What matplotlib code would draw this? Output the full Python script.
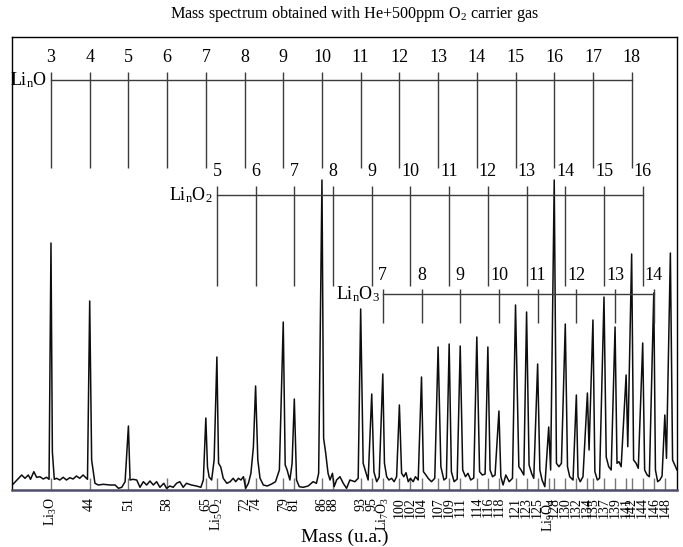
import matplotlib
matplotlib.use("Agg")
import matplotlib.pyplot as plt

plt.rcParams['font.family'] = ['Liberation Serif', 'DejaVu Serif']
plt.rcParams['mathtext.fontset'] = 'custom'
plt.rcParams['mathtext.rm'] = 'Liberation Serif'
plt.rcParams['mathtext.it'] = 'Liberation Serif'
plt.rcParams['mathtext.default'] = 'regular'

# ---------------- data ----------------
spec_mass = [
    30.0, 31.7, 32.3, 32.9, 33.3, 33.9, 34.4, 35.0, 35.6, 36.2, 36.65, 37.0, 37.25, 37.6, 38.0,
    38.6, 39.2, 39.8, 40.4, 41.0, 41.6, 42.2, 42.8, 43.6, 44.0, 44.35, 44.95, 45.55, 46.45, 47.7,
    48.6, 49.2, 49.8, 50.4, 51.0, 51.3, 51.8, 52.5, 53.1, 53.7, 54.3, 54.9, 55.5, 56.1, 56.7,
    57.4, 57.9, 58.5, 59.1, 59.7, 60.3, 60.9, 61.5, 62.4, 63.3, 64.1, 64.55, 65.0, 65.3, 65.6,
    66.05, 66.5, 67.0, 67.3, 67.7, 68.15, 68.8, 69.4, 69.95, 70.4, 70.9, 71.35, 71.8, 72.2, 72.7,
    73.15, 73.6, 74.0, 74.4, 74.8, 75.4, 76.1, 76.9, 77.6, 78.3, 79.0, 79.35, 79.7, 80.2, 80.6,
    81.0, 81.4, 81.9, 82.6, 83.5, 84.4, 85.0, 85.4, 86.0, 86.3, 86.65, 87.1, 87.45, 87.9, 88.2,
    88.65, 89.25, 89.85, 90.45, 91.05, 91.95, 92.55, 93.0, 93.45, 93.9, 94.35, 95.0, 95.4, 95.9,
    96.35, 97.0, 97.3, 97.7, 98.1, 98.6, 99.05, 99.5, 100.0, 100.4, 100.8, 101.2, 101.6, 102.0,
    102.5, 102.9, 103.4, 104.0, 104.35, 104.8, 105.2, 105.8, 106.4, 107.0, 107.5, 108.05, 108.5,
    109.0, 109.4, 109.9, 110.45, 111.0, 111.45, 111.95, 112.4, 112.9, 113.45, 114.0, 114.5, 115.0,
    115.5, 116.0, 116.4, 116.85, 117.3, 118.0, 118.35, 118.75, 119.25, 119.85, 120.45, 121.0,
    121.6, 122.0, 122.5, 123.0, 123.45, 123.9, 124.3, 125.0, 125.4, 125.8, 126.3, 127.0, 127.35,
    128.0, 128.4, 128.85, 129.3, 130.0, 130.4, 130.8, 131.4, 132.0, 132.3, 132.7, 133.2, 134.0,
    134.3, 135.0, 135.35, 135.8, 136.2, 137.0, 137.4, 137.85, 138.3, 139.0, 139.35, 139.7, 140.1,
    141.0, 141.3, 142.0, 142.35, 142.8, 143.2, 144.0, 144.35, 144.8, 145.2, 146.0, 146.3, 146.7,
    147.1, 147.5, 148.0, 148.3, 149.0, 149.4, 150.2,
]
spec_int = [
    5, 15, 11.7, 15, 10.7, 18.3, 12.7, 13.3, 11, 12.7, 10.7, 247, 38, 10.7, 11.7,
    10, 12.7, 10, 12.3, 11, 14, 11.7, 15, 10.7, 189, 30, 6.7, 5, 5.7, 5,
    5, 1.7, 2.7, 8.3, 64, 10, 10.7, 10, 2.7, 8.3, 5, 9, 5, 8.3, 2.7,
    6.7, 1.7, 4, 2.7, 6.7, 8.3, 2.7, 6.7, 5, 4, 2.7, 10, 72, 23, 13,
    10, 30, 133, 26.7, 23, 11.7, 6.7, 8.3, 11.7, 8.3, 11.7, 10, 13.3, 1.7, 6.7,
    16.7, 43, 104, 30, 11.7, 5, 4, 6, 8.3, 20, 168, 25, 20, 10, 26.7,
    91, 10, 3.3, 2.7, 4, 8.3, 6.7, 16.7, 310, 51.7, 38, 16.7, 10, 16.7, 3.3,
    10, 13.3, 6.7, 1.7, 10, 8.3, 11.7, 181, 26.7, 18.3, 10, 96, 18, 8.3,
    13, 116, 26.7, 13.3, 10, 11.7, 8.3, 13.3, 85, 16.7, 13.3, 17.3, 8.3, 11.7,
    8.3, 13.3, 10, 113, 18.3, 15, 11.7, 8.3, 11.7, 143, 23.3, 10, 12,
    146, 18.3, 8.3, 11, 144, 20, 13.3, 16.7, 10, 12, 153, 18.3, 15,
    16, 143, 20, 13.3, 15, 79, 13.3, 5, 15, 8.3, 11.7, 185,
    23.3, 20, 15, 178, 25, 16.7, 11.7, 126, 20, 10, 3.3, 63, 20,
    310, 26.7, 23.3, 26.7, 166, 23.3, 13.3, 10, 95, 13.3, 8.3, 13.3, 97,
    40, 170, 18.3, 10, 11.7, 193, 33, 23.3, 20, 163, 26.7, 28.3, 23.3,
    115, 43.3, 236, 30, 26.7, 21.7, 147, 20, 15, 13.3, 197, 20, 8.3,
    10, 14, 75, 31.7, 237, 30, 20,
]

tick_mass = [37, 44, 51, 58, 65, 67, 72, 74, 79, 81, 86, 88, 93, 95, 97, 100, 102, 104,
             107, 109, 111, 114, 116, 118, 121, 123, 125, 127, 128, 130, 132, 134, 135,
             137, 139, 141, 142, 144, 146, 148]
tick_labels = ['Li$_3$O', '44', '51', '58', '65', 'Li$_5$O$_2$', '72', '74', '79', '81',
               '86', '88', '93', '95', 'Li$_7$O$_3$', '100', '102', '104', '107', '109',
               '111', '114', '116', '118', '121', '123', '125', 'Li$_9$O$_4$', '128', '130',
               '132', '134', '135', '137', '139', '141', '142', '144', '146', '148']

lino_n = [3, 4, 5, 6, 7, 8, 9, 10, 11, 12, 13, 14, 15, 16, 17, 18]
lino_mass = [37, 44, 51, 58, 65, 72, 79, 86, 93, 100, 107, 114, 121, 128, 135, 142]
lino2_n = [5, 6, 7, 8, 9, 10, 11, 12, 13, 14, 15, 16]
lino2_mass = [67, 74, 81, 88, 95, 102, 109, 116, 123, 130, 137, 144]
lino3_n = [7, 8, 9, 10, 11, 12, 13, 14]
lino3_mass = [97, 104, 111, 118, 125, 132, 139, 146]

# ---------------- figure ----------------
fig = plt.figure(figsize=(6.83, 5.47), dpi=100)
ax = fig.add_axes([12/683, 1-490/547, 665/683, 453/547])
ax.set_xlim(29.95, 150.2)
ax.set_ylim(0, 453)

ax.plot(spec_mass, spec_int, color='#0d0d0d', lw=1.1)

ladder_col = '#3c3c3c'
ladders = [
    (lino_n, lino_mass, 'Li$_n$O', 410, 418, 322, 432, 36.3),
    (lino2_n, lino2_mass, 'Li$_n$O$_2$', 295, 304, 204, 319, 66.2),
    (lino3_n, lino3_mass, 'Li$_n$O$_3$', 196, 201, 167, 214, 96.4),
]
for ns, ms, lab, yh, ytop, ybot, ynum, xlab in ladders:
    ax.plot([ms[0], ms[-1]], [yh, yh], color=ladder_col, lw=1.0)
    ax.vlines(ms, ybot, ytop, color=ladder_col, lw=1.0)
    for n, m in zip(ns, ms):
        ax.text(m, ynum, str(n), ha='center', va='center', fontsize=13)
    ax.text(xlab, yh, lab, ha='right', va='center', fontsize=13)

ax.set_xticks(tick_mass)
ax.set_xticklabels(tick_labels, rotation=90, fontsize=10)
ax.tick_params(axis='x', direction='in', length=9, width=1, color='#777777', pad=5)
ax.set_yticks([])

for s in ['left', 'top', 'right']:
    ax.spines[s].set_color('black')
    ax.spines[s].set_linewidth(1.0)
ax.spines['bottom'].set_color('#4d4d6b')
ax.spines['bottom'].set_linewidth(1.8)

fig.text(355/683, 1-14/547, 'Mass spectrum obtained with He+500ppm O$_2$ carrier gas',
         ha='center', va='center', fontsize=11.6)
fig.text(345/683, 1-537/547, 'Mass (u.a.)', ha='center', va='center', fontsize=14)

fig.savefig('out.png', dpi=100)
